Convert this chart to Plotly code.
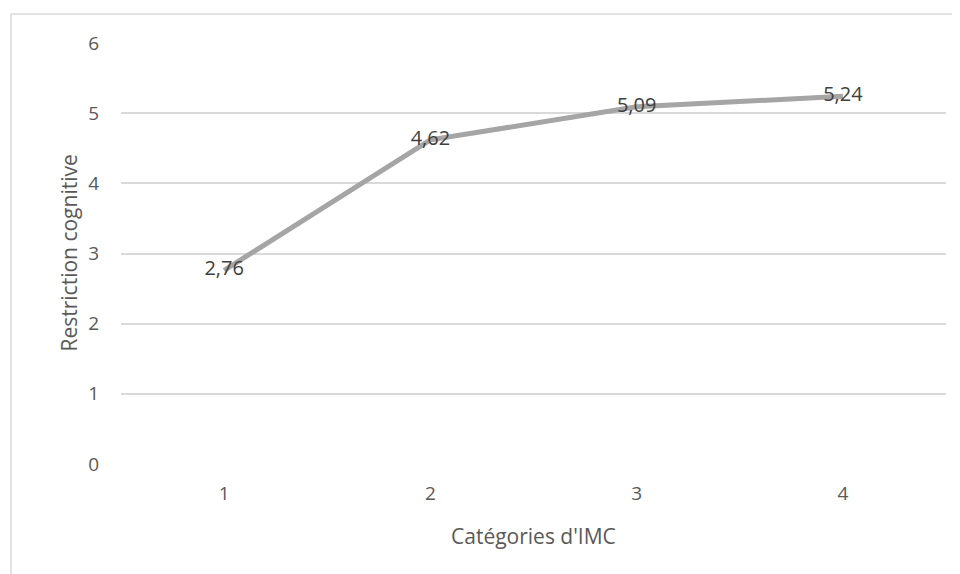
import plotly.graph_objects as go

categories = [1, 2, 3, 4]
values = [2.76, 4.62, 5.09, 5.24]
labels = ["2,76", "4,62", "5,09", "5,24"]
y_ticks = [0, 1, 2, 3, 4, 5, 6]
x_title = "Catégories d'IMC"
y_title = "Restriction cognitive"

FONT = "Open Sans"

fig = go.Figure()
fig.add_trace(go.Scatter(
    x=categories, y=values, mode="lines+text",
    text=labels, textposition="middle center",
    textfont=dict(family=FONT, size=20, color="#404040"),
    line=dict(color="#A5A5A5", width=5),
    hoverinfo="skip", showlegend=False,
))

fig.update_layout(
    width=952, height=566,
    margin=dict(l=113, r=14, t=35, b=110),
    paper_bgcolor="white", plot_bgcolor="white",
    xaxis=dict(range=[0.5, 4.5], tickvals=categories, ticktext=[str(c) for c in categories],
               showgrid=False, zeroline=False, showline=False, ticks="",
               ticklabelstandoff=16,
               tickfont=dict(family=FONT, size=19, color="#595959")),
    yaxis=dict(range=[0, 6], tickvals=y_ticks, showgrid=True, gridcolor="#D9D9D9", gridwidth=1.5,
               zeroline=False, showline=False, ticks="", ticklabelstandoff=21,
               tickfont=dict(family=FONT, size=19, color="#595959")),
    shapes=[dict(type="rect", xref="paper", yref="paper", x0=-0.1333, y0=-0.28, x1=1.03, y1=1.0689,
                 line=dict(color="#D9D9D9", width=1.5), fillcolor="rgba(0,0,0,0)", layer="below")],
    annotations=[
        dict(text=x_title, xref="paper", yref="paper", x=0.5, y=-0.171, showarrow=False,
             xanchor="center", yanchor="middle", font=dict(family=FONT, size=21, color="#595959")),
        dict(text=y_title, xref="paper", yref="paper", x=-0.0642, y=0.5, showarrow=False, textangle=-90,
             xanchor="center", yanchor="middle", font=dict(family=FONT, size=21, color="#595959")),
    ],
)

fig.write_html("out.html")
